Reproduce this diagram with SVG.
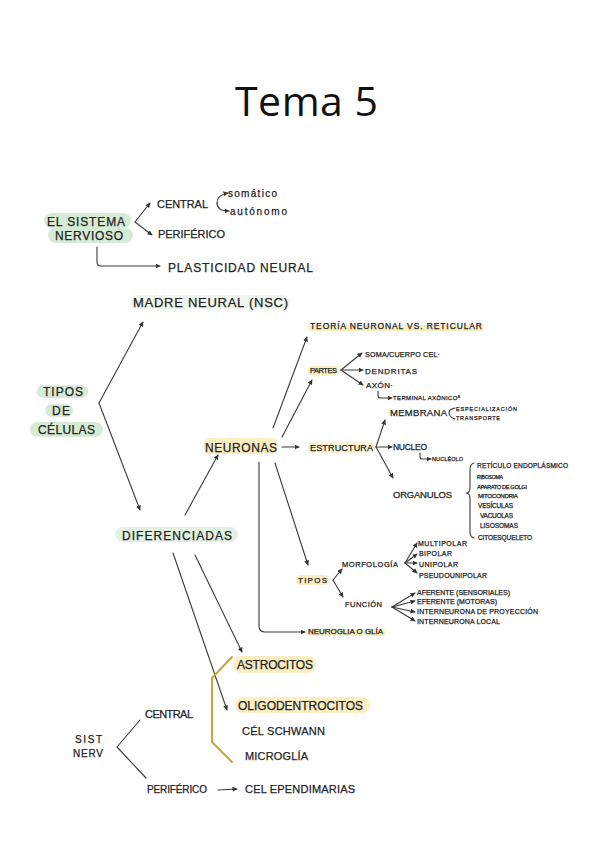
<svg xmlns="http://www.w3.org/2000/svg" width="601" height="848" viewBox="0 0 601 848">
<defs>
<marker id="ah" viewBox="0 0 10 10" refX="9" refY="5" markerWidth="5" markerHeight="5" markerUnits="userSpaceOnUse" orient="auto">
<path d="M0,0 L10,5 L0,10 Z" fill="#333"/>
</marker>
<style>
text{font-family:"Liberation Sans","DejaVu Sans",sans-serif;fill:#222;stroke:#222;stroke-width:0.25;}
.t{font-family:"Open Sans","Noto Sans",sans-serif;fill:#111;stroke:none;}
.c path{fill:none;stroke:#3a3a3a;stroke-width:1.1;stroke-linecap:round;stroke-linejoin:round;}
.c .a{marker-end:url(#ah);}
.c .ol{stroke:#c9a53c;stroke-width:2;}
.g{fill:#d6ebd6;}
.y{fill:#fbeec2;}
</style>
</defs>
<rect width="601" height="848" fill="#fff"/>

<g id="title"><text class="t" x="235" y="116" font-size="41" textLength="143">Tema 5</text></g>

<g class="c" id="connectors">
<path class="a" d="M135,222 L150,203"/>
<path class="a" d="M135,222 L152,235"/>
<path class="a" d="M217,203 Q217,195 228,193"/>
<path class="a" d="M217,203 Q217,211 229,211"/>
<path class="a" d="M97,247 L97,262 Q97,266 101,266 L160,266"/>
<path class="a" d="M99,403 L143,322"/>
<path class="a" d="M99,403 L140,510"/>
<path class="a" d="M185,515 L218,455"/>
<path class="a" d="M273,428 L307,337"/>
<path class="a" d="M282,437 L312,380"/>
<path class="a" d="M282,447 L299,447"/>
<path class="a" d="M376,447 L385,420"/>
<path class="a" d="M376,447 L392,447"/>
<path class="a" d="M376,447 L393,478"/>
<path d="M455,408 Q449,409 449,413 Q449,417 455,419"/>
<path class="a" d="M341,370 L362,353"/>
<path class="a" d="M341,370 L363,370"/>
<path class="a" d="M341,370 L363,385"/>
<path class="a" d="M378,391 L378,396 Q378,398 381,398 L392,398"/>
<path class="a" d="M420,453 L420,457 Q420,459 422,459 L431,459"/>
<path d="M474,463 Q470,464 470,470 L470,488 Q470,493 466,493 Q470,493 470,498 L470,532 Q470,537 474,538"/>
<path class="a" d="M275,463 L308,565"/>
<path class="a" d="M333,580 L342,569"/>
<path class="a" d="M333,580 L343,597"/>
<path class="a" d="M405,563 L417,543"/>
<path class="a" d="M405,563 L417,554"/>
<path class="a" d="M405,563 L417,563"/>
<path class="a" d="M405,563 L417,573"/>
<path class="a" d="M392,607 L415,593"/>
<path class="a" d="M392,607 L415,601"/>
<path class="a" d="M392,607 L415,612"/>
<path class="a" d="M392,607 L415,621"/>
<path class="a" d="M259,462 L259,626 Q259,632 265,632 L305,632"/>
<path class="a" d="M173,553 L227,710"/>
<path class="a" d="M195,555 L242,652"/>
<path class="ol" d="M232,657 L212,678 L212,742 L232,762"/>
<path d="M140,720 L117,747 L146,778"/>
<path class="a" d="M218,790 L237,789"/>
</g>

<g id="el-sistema-nervioso">
<rect class="g" x="44" y="213" width="87" height="15" rx="7.5"/>
<rect class="g" x="48" y="228" width="85" height="15" rx="7.5"/>
<text x="47" y="226" font-size="12" textLength="78">EL SISTEMA</text>
<text x="55" y="240" font-size="12" textLength="68">NERVIOSO</text>
</g>
<g id="central"><text x="157" y="208" font-size="11" textLength="51">CENTRAL</text></g>
<g id="somatico"><text x="228" y="197" font-size="10" textLength="49">somático</text></g>
<g id="autonomo"><text x="230" y="215" font-size="10" textLength="57">autónomo</text></g>
<g id="periferico"><text x="158" y="238" font-size="11" textLength="67">PERIFÉRICO</text></g>
<g id="plasticidad"><text x="168" y="272" font-size="12" textLength="145">PLASTICIDAD NEURAL</text></g>

<g id="madre-neural">
<rect x="130" y="295" width="160" height="14" rx="7" fill="#eef6ee"/>
<text x="133" y="307" font-size="13" textLength="155">MADRE NEURAL (NSC)</text>
</g>
<g id="tipos-celulas">
<rect class="g" x="37" y="385" width="51" height="13" rx="6.5"/>
<rect class="g" x="45" y="404" width="28" height="13" rx="6.5"/>
<rect class="g" x="30" y="422" width="73" height="15" rx="7.5"/>
<text x="43" y="396" font-size="12" textLength="40">TIPOS</text>
<text x="52" y="415" font-size="12" textLength="18">DE</text>
<text x="38" y="434" font-size="12" textLength="57">CÉLULAS</text>
</g>
<g id="diferenciadas">
<rect x="115" y="527" width="123" height="15" rx="7.5" fill="#e3f1e3"/>
<text x="122" y="540" font-size="12" textLength="110">DIFERENCIADAS</text>
</g>
<g id="neuronas">
<rect class="y" x="203" y="438" width="75" height="16" rx="7"/>
<text x="205" y="452" font-size="12" textLength="72">NEURONAS</text>
</g>
<g id="teoria">
<rect class="y" x="308" y="325" width="176" height="6" rx="3"/>
<text x="310" y="329" font-size="8.5" textLength="172">TEORÍA NEURONAL VS. RETICULAR</text>
</g>
<g id="partes">
<rect class="y" x="308" y="366" width="31" height="9" rx="3"/>
<text x="310" y="373" font-size="7.5" textLength="27">PARTES</text>
</g>
<g id="soma"><text x="365" y="357" font-size="7.2" textLength="75">SOMA/CUERPO CEL·</text></g>
<g id="dendritas"><text x="365" y="374" font-size="8" textLength="52">DENDRITAS</text></g>
<g id="axon"><text x="366" y="388" font-size="8" textLength="27">AXÓN·</text></g>
<g id="terminal"><text x="393" y="400" font-size="6" textLength="67">TERMINAL AXÓNICOª</text></g>
<g id="estructura">
<rect x="308" y="442" width="67" height="11" rx="4" fill="#fdf5d8"/>
<text x="310" y="451" font-size="9" textLength="63">ESTRUCTURA</text>
</g>
<g id="membrana"><text x="390" y="416" font-size="9.5" textLength="57">MEMBRANA</text></g>
<g id="especializacion"><text x="456" y="411" font-size="5.5" textLength="61">ESPECIALIZACIÓN</text></g>
<g id="transporte"><text x="456" y="420" font-size="5.5" textLength="44">TRANSPORTE</text></g>
<g id="nucleo"><text x="393" y="450" font-size="8.5" textLength="34">NUCLEO</text></g>
<g id="nucleolo"><text x="432" y="461" font-size="5.5" textLength="31">NUCLÉOLO</text></g>
<g id="organulos"><text x="393" y="498" font-size="9.5" textLength="59">ORGANULOS</text></g>
<g id="organulos-lista">
<text x="477" y="468" font-size="6.5" textLength="91">RETÍCULO ENDOPLÁSMICO</text>
<text x="477" y="479" font-size="5.2" textLength="26">RIBOSOMA</text>
<text x="477" y="489" font-size="5.7" textLength="50">APARATO DE GOLGI</text>
<text x="478" y="498" font-size="6.2" textLength="40">MITOCONDRIA</text>
<text x="478" y="508" font-size="6.5" textLength="35">VESÍCULAS</text>
<text x="480" y="518" font-size="6.5" textLength="33">VACUOLAS</text>
<text x="480" y="528" font-size="6.5" textLength="38">LISOSOMAS</text>
<text x="478" y="540" font-size="6.5" textLength="54">CITOESQUELETO</text>
</g>
<g id="tipos">
<rect class="y" x="296" y="575" width="33" height="10" rx="4"/>
<text x="298" y="583" font-size="8" textLength="29">TIPOS</text>
</g>
<g id="morfologia"><text x="342" y="567" font-size="7.5" textLength="56">MORFOLOGÍA</text></g>
<g id="multipolar"><text x="418" y="546" font-size="7" textLength="49">MULTIPOLAR</text></g>
<g id="bipolar"><text x="419" y="556" font-size="7" textLength="33">BIPOLAR</text></g>
<g id="unipolar"><text x="419" y="567" font-size="7" textLength="39">UNIPOLAR</text></g>
<g id="pseudounipolar"><text x="419" y="578" font-size="7" textLength="68">PSEUDOUNIPOLAR</text></g>
<g id="funcion"><text x="345" y="607" font-size="7.5" textLength="37">FUNCIÓN</text></g>
<g id="aferente"><text x="417" y="595" font-size="7" textLength="93">AFERENTE (SENSORIALES)</text></g>
<g id="eferente"><text x="417" y="604" font-size="7" textLength="80">EFERENTE (MOTORAS)</text></g>
<g id="int-proyeccion"><text x="417" y="614" font-size="7" textLength="121">INTERNEURONA DE PROYECCIÓN</text></g>
<g id="int-local"><text x="417" y="624" font-size="7" textLength="83">INTERNEURONA LOCAL</text></g>
<g id="neuroglia">
<rect class="y" x="306" y="629" width="79" height="7" rx="3"/>
<text x="308" y="634" font-size="8" textLength="75">NEUROGLIA O GLÍA</text>
</g>
<g id="astrocitos">
<rect class="y" x="233" y="656" width="83" height="17" rx="8"/>
<text x="237" y="669" font-size="12" textLength="76">ASTROCITOS</text>
</g>
<g id="oligodendrocitos">
<rect class="y" x="235" y="697" width="135" height="16" rx="8"/>
<text x="238" y="710" font-size="12" textLength="125">OLIGODENTROCITOS</text>
</g>
<g id="schwann"><text x="242" y="735" font-size="11" textLength="83">CÉL SCHWANN</text></g>
<g id="microglia"><text x="245" y="760" font-size="11" textLength="63">MICROGLÍA</text></g>
<g id="sist-nerv">
<text x="75" y="743" font-size="10" textLength="27">SIST</text>
<text x="73" y="757" font-size="10" textLength="30">NERV</text>
</g>
<g id="central-2"><text x="145" y="718" font-size="11" textLength="48">CENTRAL</text></g>
<g id="periferico-2"><text x="147" y="793" font-size="10" textLength="60">PERIFÉRICO</text></g>
<g id="ependimarias"><text x="245" y="793" font-size="11" textLength="110">CEL EPENDIMARIAS</text></g>
</svg>
